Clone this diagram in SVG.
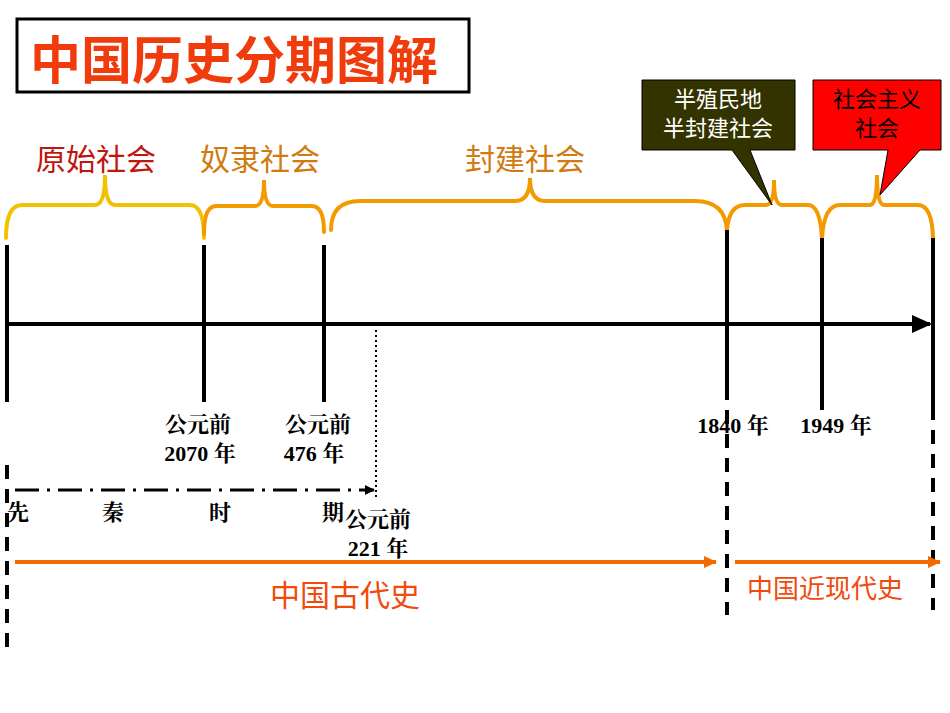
<svg xmlns="http://www.w3.org/2000/svg" width="950" height="713" viewBox="0 0 950 713">
<style>
.b{fill:none;stroke-width:4;stroke-linecap:round}
.y{stroke:#f2c200}.o{stroke:#f29a00}
.k{stroke:#000;stroke-width:4;fill:none}
.t{font-family:"Noto Sans CJK SC",sans-serif}
.s{font-family:"Liberation Serif","Noto Serif CJK SC","Noto Sans CJK SC",serif;font-weight:bold;font-size:22px;fill:#000}
</style>
<defs>
<marker id="ak" markerWidth="10" markerHeight="10" refX="9" refY="5" orient="auto" markerUnits="userSpaceOnUse"><path d="M0,0L10,5L0,10z" fill="#000"/></marker>
<marker id="ab" markerWidth="20" markerHeight="20" refX="18" refY="10" orient="auto" markerUnits="userSpaceOnUse"><path d="M0,1L20,10L0,19z" fill="#000"/></marker>
<marker id="ao" markerWidth="14" markerHeight="14" refX="12" refY="7" orient="auto" markerUnits="userSpaceOnUse"><path d="M0,1L13,7L0,13z" fill="#f26a00"/></marker>
</defs>
<g id="title"><rect x="17" y="19" width="452" height="73" fill="#fff" stroke="#000" stroke-width="3"/>
<text class="t" x="30" y="79" font-size="51" font-weight="bold" fill="#f03c0c">中国历史分期图解</text></g>
<g id="braces">
<path class="b y" d="M6,238Q6,205 22,205L95,205Q105,205 105,175Q105,205 115,205L190,205Q204,205 204,238"/>
<path class="b o" d="M204,234Q204,206 216,206L255,206Q264,206 264,180Q264,206 273,206L312,206Q324,206 324,232"/>
<path class="b o" d="M331,230Q331,201 360,201L515,201Q530,201 530,178Q530,201 545,201L695,201Q725,201 727,230"/>
<path class="b o" d="M727,230Q729,205 745,205L766,205Q774,205 774,180Q774,205 782,205L808,205Q820,205 822,238"/>
<path class="b o" d="M822,238Q824,205 840,205L870,205Q877,205 877,175Q877,205 884,205L918,205Q932,205 933,238"/>
</g>
<g id="labels" class="t" font-size="30">
<text x="96" y="170" text-anchor="middle" fill="#c0160c">原始社会</text>
<text x="260" y="170" text-anchor="middle" fill="#d07a10">奴隶社会</text>
<text x="525" y="170" text-anchor="middle" fill="#d07a10">封建社会</text>
</g>
<g id="callout1"><path d="M642,80H795V150H750L772,205L732,150H642Z" fill="#333300" stroke="#000"/>
<text class="t" font-size="22" fill="#fff" text-anchor="middle"><tspan x="718" y="107">半殖民地</tspan><tspan x="718" y="136">半封建社会</tspan></text></g>
<g id="callout2"><path d="M813,80H941V150H920L880,195L888,150H813Z" fill="#ff0000" stroke="#000"/>
<text class="t" font-size="22" fill="#000" text-anchor="middle"><tspan x="877" y="107">社会主义</tspan><tspan x="877" y="136">社会</tspan></text></g>
<g id="connectors">
<line class="k" x1="7" y1="324" x2="930" y2="324" stroke-width="5" marker-end="url(#ab)"/>
<path class="k" d="M7,245V402M204,245V402M324,245V402M727,230V400M822,238V410M933,238V420"/>
<path class="k" stroke-dasharray="14,10" d="M727,410V615M933,430V610M7,465V650"/>
<line x1="376" y1="330" x2="376" y2="500" stroke="#000" stroke-width="2" stroke-dasharray="2,3"/>
<line x1="15" y1="490" x2="374" y2="490" stroke="#000" stroke-width="3" stroke-dasharray="24,8,3,8" marker-end="url(#ak)"/>
<line x1="15" y1="562" x2="716" y2="562" stroke="#f26a00" stroke-width="4" marker-end="url(#ao)"/>
<line x1="735" y1="562" x2="940" y2="562" stroke="#f26a00" stroke-width="4" marker-end="url(#ao)"/>
</g>
<g id="dates">
<text class="s" x="198" y="432" text-anchor="middle">公元前</text><text class="s" x="200" y="461" text-anchor="middle">2070 年</text>
<text class="s" x="318" y="432" text-anchor="middle">公元前</text><text class="s" x="314" y="461" text-anchor="middle">476 年</text>
<text class="s" x="378" y="527" text-anchor="middle">公元前</text><text class="s" x="378" y="556" text-anchor="middle">221 年</text>
<text class="s" x="733" y="433" text-anchor="middle">1840 年</text>
<text class="s" x="836" y="433" text-anchor="middle">1949 年</text>
<text class="s" x="7" y="520">先</text><text class="s" x="102" y="520">秦</text><text class="s" x="209" y="520">时</text><text class="s" x="322" y="520">期</text>
</g>
<g id="periods" class="t" fill="#f04a0c">
<text x="345" y="606" font-size="30" text-anchor="middle">中国古代史</text>
<text x="825" y="598" font-size="26" text-anchor="middle">中国近现代史</text>
</g>
</svg>
